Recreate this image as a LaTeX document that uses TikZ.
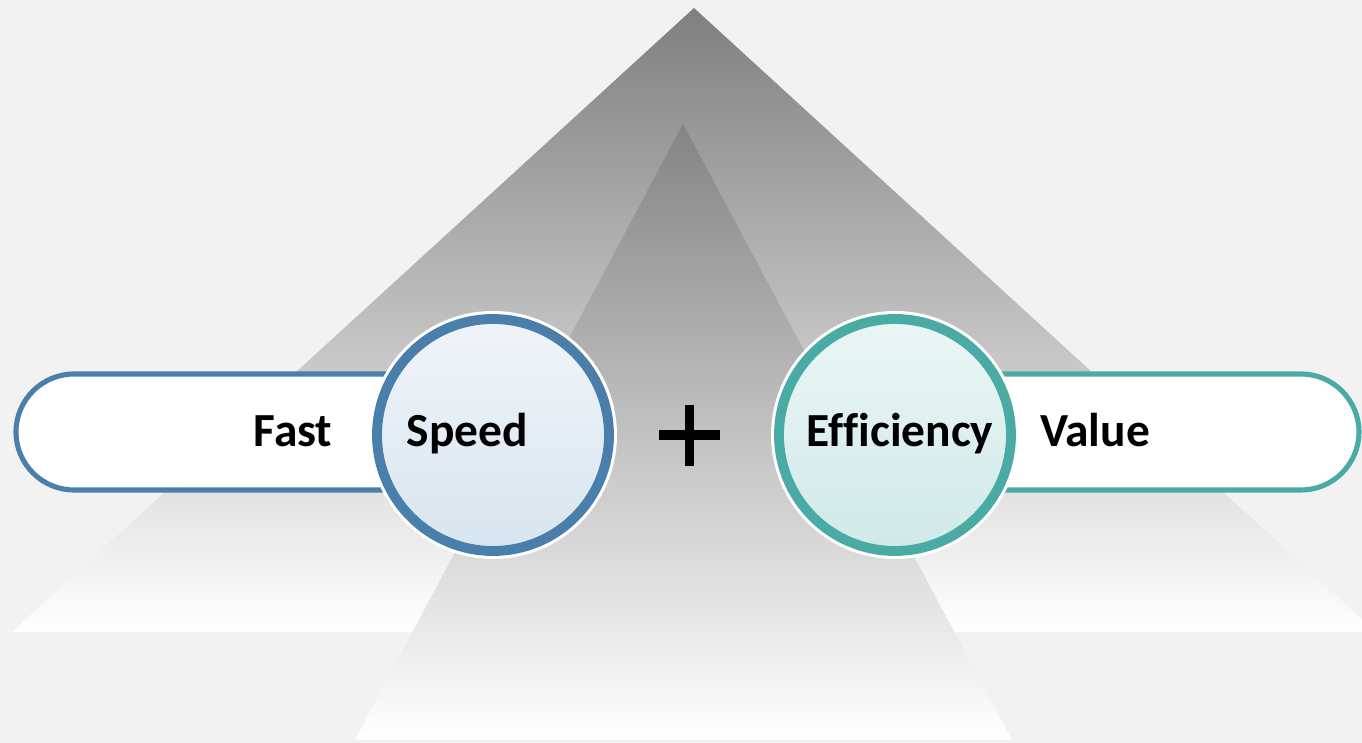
\documentclass[tikz,border=0pt]{standalone}
\usepackage{fontspec}
\setmainfont{Carlito}[Ligatures=NoCommon]
\usetikzlibrary{calc,positioning}
\definecolor{bggray}{HTML}{F2F2F2}
\definecolor{topgray}{HTML}{7F7F7F}
\definecolor{tipgray}{HTML}{848484}
\definecolor{sblue}{HTML}{4A7EAB}
\definecolor{sbluetop}{HTML}{F0F4F9}
\definecolor{sbluebot}{HTML}{D8E5EF}
\definecolor{eteal}{HTML}{4AABA5}
\definecolor{etealtop}{HTML}{EBF6F6}
\definecolor{etealbot}{HTML}{D0E9E8}

\begin{document}
\begin{tikzpicture}[x=0.01cm,y=-0.01cm,
  pill/.style={line width=1.45pt,fill=white,rounded corners=0.58cm},
  ring/.style={line width=2.8pt},
  lbl/.style={font=\fontsize{13.5}{16}\selectfont\bfseries,anchor=base,inner sep=0pt}]
  \useasboundingbox (0,0) rectangle (1362,743);
  \clip (0,0) rectangle (1362,743);
  \fill[bggray] (0,0) rectangle (1362,743);

  \coordinate (A1) at (694,8);
  \coordinate (A2) at (683,124);
  \coordinate (S) at (493,435);
  \coordinate (E) at (895,435);

  \shade[top color=topgray,bottom color=white] (A1)--(12,632)--(1376,632)--cycle;
  \shade[top color=tipgray,bottom color=white] (A2)--(355,740)--(1012,740)--cycle;

  \draw[pill,draw=sblue] (16,374) rectangle (470,490);
  \draw[pill,draw=eteal] (920,374) rectangle (1359,490);

  \fill[white] (S) circle (124);
  \draw[ring,sblue,top color=sbluetop,bottom color=sbluebot] (S) circle (116);
  \fill[white] (E) circle (124);
  \draw[ring,eteal,top color=etealtop,bottom color=etealbot] (E) circle (116);

  \node[lbl] (fast) at (293,447) {Fast};
  \node[lbl] (speed) at (467.5,447) {Speed};
  \node[lbl] (eff) at (900,447) {Efficiency};
  \node[lbl] (value) at (1095,447) {Value};

  \draw[line width=2.6pt] (659,435)--(720,435) (689.5,405)--(689.5,466);
\end{tikzpicture}
\end{document}
